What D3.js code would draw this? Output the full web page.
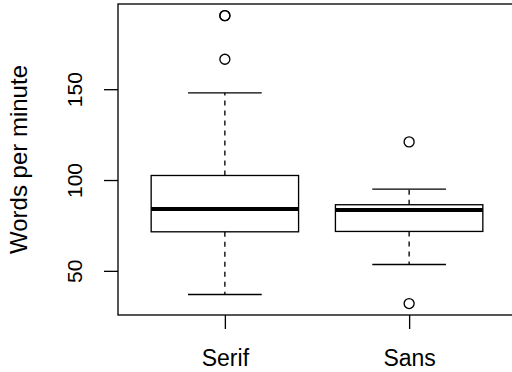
<!DOCTYPE html>
<html><head><meta charset="utf-8">
<script src="https://cdn.jsdelivr.net/npm/d3@7"></script>
<style>body{margin:0;background:#fff}svg{display:block}</style>
</head><body>
<svg id="c" width="512" height="372"></svg>
<script>
const categories = ["Serif", "Sans"];
const lowerWhisker = [37, 53.5];
const q1 = [71.5, 71.7];
const medians = [84, 83.5];
const q3 = [102.5, 86.4];
const upperWhisker = [148, 95];
const outliers = [[166.5, 190.5, 190.5], [121, 32]];
const yTicks = [50, 100, 150];
const yTitle = "Words per minute";

const svg = d3.select("#c");
const L = 118, R = 516, T = 4, B = 315;
const x = d3.scaleLinear().domain([0.42, 2.58]).range([L, R]);
const y = d3.scaleLinear().domain([25.7, 196.9]).range([B, T]);
const font = "'Liberation Sans', Arial, Helvetica, sans-serif";
const lw = 1.33;

const data = categories.map((c, i) => ({c, i: i + 1, lo: lowerWhisker[i], q1: q1[i], med: medians[i], q3: q3[i], hi: upperWhisker[i], out: outliers[i]}));

const g = svg.append("g");
data.forEach(d => {
  const cx = x(d.i), hw = x(d.i + 0.4) - x(d.i), sw = x(d.i + 0.2) - x(d.i);
  g.append("line").attr("x1", cx).attr("x2", cx).attr("y1", y(d.q3)).attr("y2", y(d.hi))
    .attr("stroke", "#000").attr("stroke-width", lw).attr("stroke-dasharray", "5,5");
  g.append("line").attr("x1", cx).attr("x2", cx).attr("y1", y(d.q1)).attr("y2", y(d.lo))
    .attr("stroke", "#000").attr("stroke-width", lw).attr("stroke-dasharray", "5,5");
  [d.lo, d.hi].forEach(v => g.append("line").attr("x1", cx - sw).attr("x2", cx + sw)
    .attr("y1", y(v)).attr("y2", y(v)).attr("stroke", "#000").attr("stroke-width", lw));
  g.append("rect").attr("x", cx - hw).attr("width", 2 * hw).attr("y", y(d.q3)).attr("height", y(d.q1) - y(d.q3))
    .attr("fill", "none").attr("stroke", "#000").attr("stroke-width", lw);
  g.append("line").attr("x1", cx - hw).attr("x2", cx + hw).attr("y1", y(d.med)).attr("y2", y(d.med))
    .attr("stroke", "#000").attr("stroke-width", 4);
  d.out.forEach(v => g.append("circle").attr("cx", cx).attr("cy", y(v)).attr("r", 5)
    .attr("fill", "none").attr("stroke", "#000").attr("stroke-width", lw));
});

svg.append("rect").attr("x", L).attr("y", T).attr("width", R - L).attr("height", B - T)
  .attr("fill", "none").attr("stroke", "#000").attr("stroke-width", lw);

const ya = svg.append("g").attr("transform", `translate(${L},0)`)
  .call(d3.axisLeft(y).tickValues(yTicks).tickSize(14).tickFormat(d3.format("d")));
ya.select(".domain").remove();
ya.selectAll("line").attr("stroke-width", lw);
ya.selectAll("text").attr("font-family", font).attr("font-size", 21).attr("fill", "#000")
  .attr("x", null).attr("dy", null).attr("text-anchor", "middle")
  .attr("transform", `translate(${82 - L},0) rotate(-90)`);

const xa = svg.append("g").attr("transform", `translate(0,${B})`)
  .call(d3.axisBottom(x).tickValues([1, 2]).tickSize(14).tickFormat(d => categories[d - 1]));
xa.select(".domain").remove();
xa.selectAll("line").attr("stroke-width", lw);
xa.selectAll("text").attr("font-family", font).attr("font-size", 23).attr("fill", "#000")
  .attr("y", 366 - B).attr("dy", null);

svg.append("text").attr("font-family", font).attr("font-size", 24).attr("text-anchor", "middle")
  .attr("transform", `translate(27,${(T + B) / 2}) rotate(-90)`).text(yTitle);
</script>
</body></html>
